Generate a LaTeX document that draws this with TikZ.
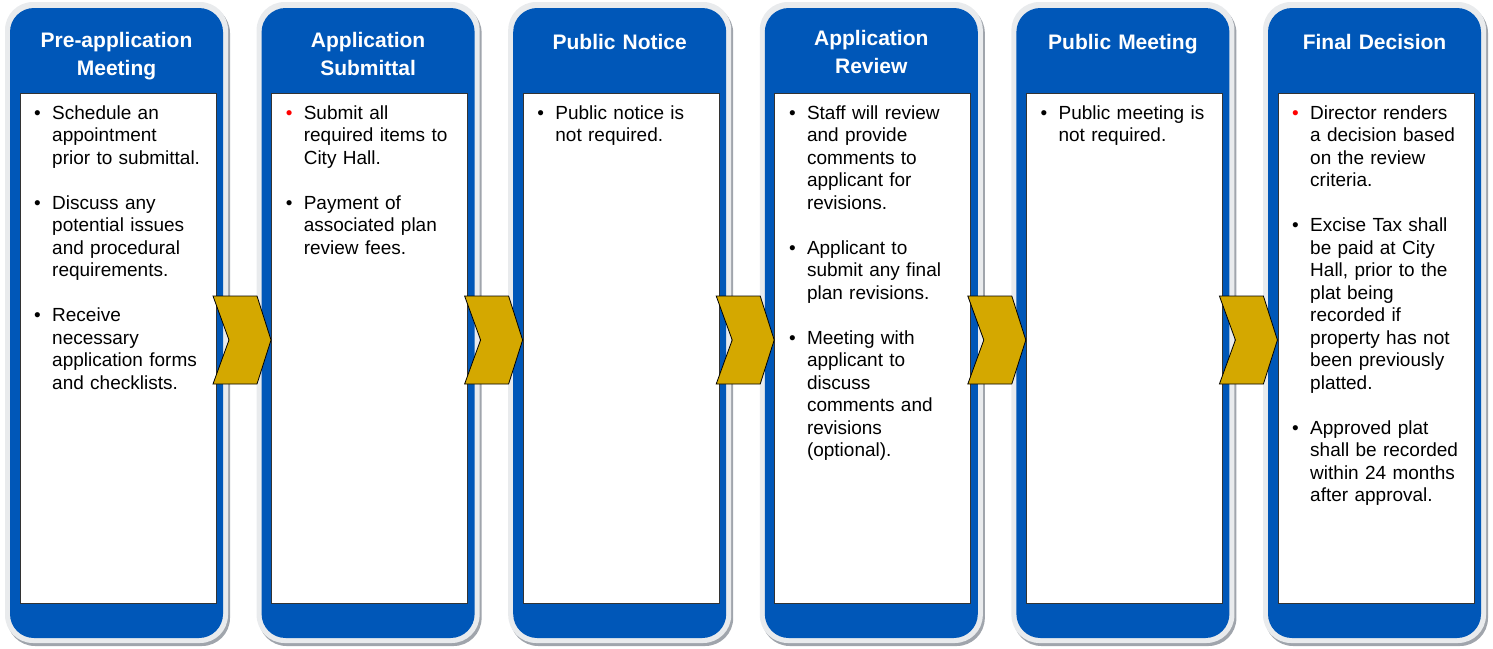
\documentclass[tikz,border=0pt]{standalone}
\usepackage{fontspec}
\setmainfont{Liberation Sans}
\definecolor{stepblue}{RGB}{0,87,184}
\definecolor{ringgray}{RGB}{233,235,237}
\definecolor{shadegray}{RGB}{160,165,172}
\definecolor{chevgold}{RGB}{212,168,0}
% one bullet entry, lines broken by hand
\newcommand{\entry}[2][black]{\par\noindent\hangindent=18pt\hangafter=1%
  \makebox[18pt][l]{\textcolor{#1}{\textbullet}}#2\par}
\tikzset{
  steptitle/.style={anchor=north, inner sep=0pt, text=white, align=center,
    text width=205pt, font=\fontsize{21}{28}\selectfont\bfseries},
  stepbody/.style={anchor=north west, inner sep=0pt, align=left, text width=180pt,
    font=\fontsize{19}{22.5}\selectfont\setlength{\parskip}{22.5pt}},
}
\begin{document}
\begin{tikzpicture}[x=1pt,y=-1pt]
    \useasboundingbox (0,0) rectangle (1493,648);
    % blue step frames with white panels
    \foreach \i in {0,...,5}{
        \pgfmathsetmacro{\L}{10+251.6*\i}
        \fill[shadegray, rounded corners=28pt] (\L-3,5) rectangle (\L+220,646);
        \fill[ringgray, rounded corners=28pt] (\L-5,2) rectangle (\L+218,643);
        \fill[stepblue, rounded corners=24pt] (\L,8) rectangle (\L+213,638);
        \filldraw[fill=white, draw=black!80, line width=0.8pt] (\L+10,93) rectangle (\L+206,603);
    }
    % chevrons between the steps
    \foreach \i in {0,...,4}{
        \pgfmathsetmacro{\X}{213+251.6*\i}
        \filldraw[fill=chevgold, draw=black, line width=0.8pt]
            (\X,296) -- ++(44,0) -- ++(14,44) -- ++(-14,44) -- ++(-44,0) -- ++(16,-44) -- cycle;
    }
    % titles
    \node[steptitle] (t1) at (116.5,32) {Pre-application\\Meeting};
    \node[steptitle] (t2) at (368.1,32) {Application\\Submittal};
    \node[steptitle] (t3) at (619.7,34) {Public Notice};
    \node[steptitle] (t4) at (871.3,30) {Application\\Review};
    \node[steptitle] (t5) at (1122.9,34) {Public Meeting};
    \node[steptitle] (t6) at (1374.5,34) {Final Decision};
    % panel texts
    \node[stepbody] (b1) at (34,74) {%
        \entry{Schedule an\newline appointment\newline prior to submittal.}
        \entry{Discuss any\newline potential issues\newline and procedural\newline requirements.}
        \entry{Receive\newline necessary\newline application forms\newline and checklists.}};
    \node[stepbody] (b2) at (285.6,74) {%
        \entry[red]{Submit all\newline required items to\newline City Hall.}
        \entry{Payment of\newline associated plan\newline review fees.}};
    \node[stepbody] (b3) at (537.2,74) {%
        \entry{Public notice is\newline not required.}};
    \node[stepbody] (b4) at (788.8,74) {%
        \entry{Staff will review\newline and provide\newline comments to\newline applicant for\newline revisions.}
        \entry{Applicant to\newline submit any final\newline plan revisions.}
        \entry{Meeting with\newline applicant to\newline discuss\newline comments and\newline revisions\newline (optional).}};
    \node[stepbody] (b5) at (1040.4,74) {%
        \entry{Public meeting is\newline not required.}};
    \node[stepbody] (b6) at (1292,74) {%
        \entry[red]{Director renders\newline a decision based\newline on the review\newline criteria.}
        \entry{Excise Tax shall\newline be paid at City\newline Hall, prior to the\newline plat being\newline recorded if\newline property has not\newline been previously\newline platted.}
        \entry{Approved plat\newline shall be recorded\newline within 24 months\newline after approval.}};
\end{tikzpicture}
\end{document}
